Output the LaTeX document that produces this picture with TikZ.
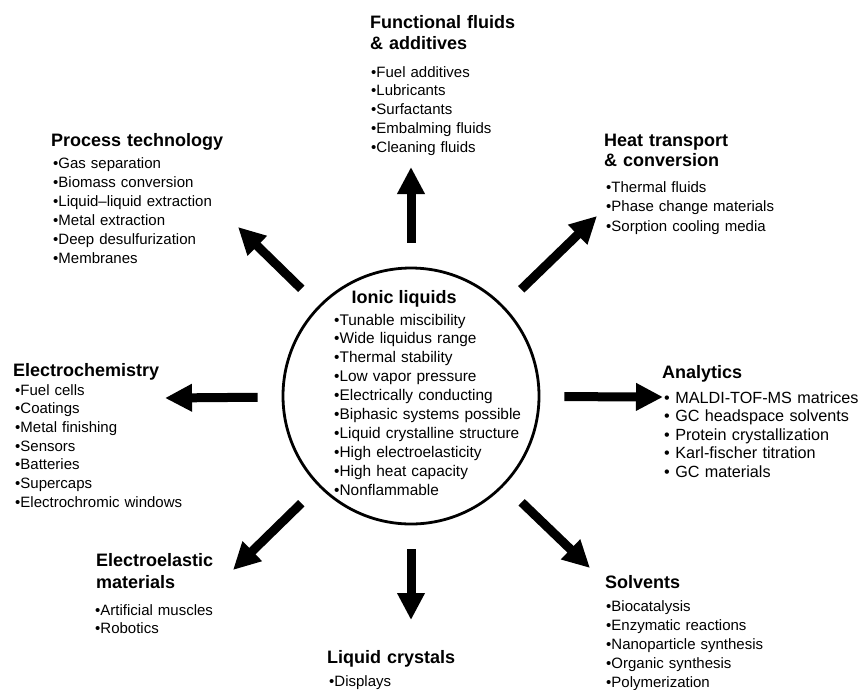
\documentclass[tikz,border=0pt]{standalone}
\usepackage{fontspec}
\setmainfont{Liberation Sans}
\usetikzlibrary{arrows.meta}
\begin{document}
\begin{tikzpicture}[x=1pt,y=-1pt,
  headtext/.style={anchor=base west, inner sep=0pt, text width=260pt, align=left,
    font=\bfseries\fontsize{18}{#1}\selectfont, text=black},
  headtext/.default=21.5,
  listtext/.style={anchor=base west, inner sep=0pt, text width=260pt, align=left,
    font=\fontsize{15}{#1}\selectfont, text=black},
  listtext/.default=19,
  bigarrow/.style={line width=9pt, draw=black,
    -{Triangle[width=26pt,length=27pt]}, shorten <=24pt},
]
\useasboundingbox (0,0) rectangle (862,689);

% central circle
\node[draw=black, circle, line width=2.8pt, minimum size=256pt, inner sep=0pt] (il) at (411,396) {};
\node[anchor=base, inner sep=0pt, font=\bfseries\fontsize{18}{21}\selectfont, text=black] (iltitle) at (404,303) {Ionic liquids};
\node[listtext=18.9, font=\fontsize{15.4}{18.9}\selectfont] (illist) at (334,325) {\textbullet Tunable miscibility\\
\textbullet Wide liquidus range\\
\textbullet Thermal stability\\
\textbullet Low vapor pressure\\
\textbullet Electrically conducting\\
\textbullet Biphasic systems possible\\
\textbullet Liquid crystalline structure\\
\textbullet High electroelasticity\\
\textbullet High heat capacity\\
\textbullet Nonflammable};

% top: functional fluids
\node[headtext] (fftitle) at (370,28) {Functional fluids\\ \& additives};
\node[listtext=18.75] (fflist) at (371,77) {\textbullet Fuel additives\\
\textbullet Lubricants\\
\textbullet Surfactants\\
\textbullet Embalming fluids\\
\textbullet Cleaning fluids};

% upper left: process technology
\node[headtext] (pttitle) at (51,146) {Process technology};
\node[listtext=19] (ptlist) at (53,168) {\textbullet Gas separation\\
\textbullet Biomass conversion\\
\textbullet Liquid–liquid extraction\\
\textbullet Metal extraction\\
\textbullet Deep desulfurization\\
\textbullet Membranes};

% upper right: heat transport
\node[headtext=20.5] (httitle) at (604,146) {Heat transport\\ \& conversion};
\node[listtext=19.5] (htlist) at (606,192) {\textbullet Thermal fluids\\
\textbullet Phase change materials\\
\textbullet Sorption cooling media};

% left: electrochemistry
\node[headtext] (ectitle) at (13,376) {Electrochemistry};
\node[listtext=18.7] (eclist) at (15,395) {\textbullet Fuel cells\\
\textbullet Coatings\\
\textbullet Metal finishing\\
\textbullet Sensors\\
\textbullet Batteries\\
\textbullet Supercaps\\
\textbullet Electrochromic windows};

% right: analytics
\node[headtext] (antitle) at (662,378) {Analytics};
\node[listtext=18.5, font=\fontsize{16.2}{18.5}\selectfont] (anlist) at (664,403) {\textbullet{} MALDI-TOF-MS matrices\\
\textbullet{} GC headspace solvents\\
\textbullet{} Protein crystallization\\
\textbullet{} Karl-fischer titration\\
\textbullet{} GC materials};

% lower left: electroelastic materials
\node[headtext=22] (eetitle) at (96,566) {Electroelastic\\ materials};
\node[listtext=18] (eelist) at (95,615) {\textbullet Artificial muscles\\
\textbullet Robotics};

% bottom: liquid crystals
\node[headtext] (lctitle) at (327,663) {Liquid crystals};
\node[listtext] (lclist) at (329,686) {\textbullet Displays};

% lower right: solvents
\node[headtext] (svtitle) at (605,588) {Solvents};
\node[listtext=19] (svlist) at (606,611) {\textbullet Biocatalysis\\
\textbullet Enzymatic reactions\\
\textbullet Nanoparticle synthesis\\
\textbullet Organic synthesis\\
\textbullet Polymerization};

% arrow tips
\coordinate (tN)  at (411,167);
\coordinate (tNE) at (597,216);
\coordinate (tE)  at (663,397);
\coordinate (tSE) at (590,568);
\coordinate (tS)  at (411,620);
\coordinate (tSW) at (233,570);
\coordinate (tW)  at (165,398);
\coordinate (tNW) at (238,227);

\foreach \t in {tN,tNE,tE,tSE,tS,tSW,tW,tNW}
  \draw[bigarrow] (il) -- (\t);
\end{tikzpicture}
\end{document}
